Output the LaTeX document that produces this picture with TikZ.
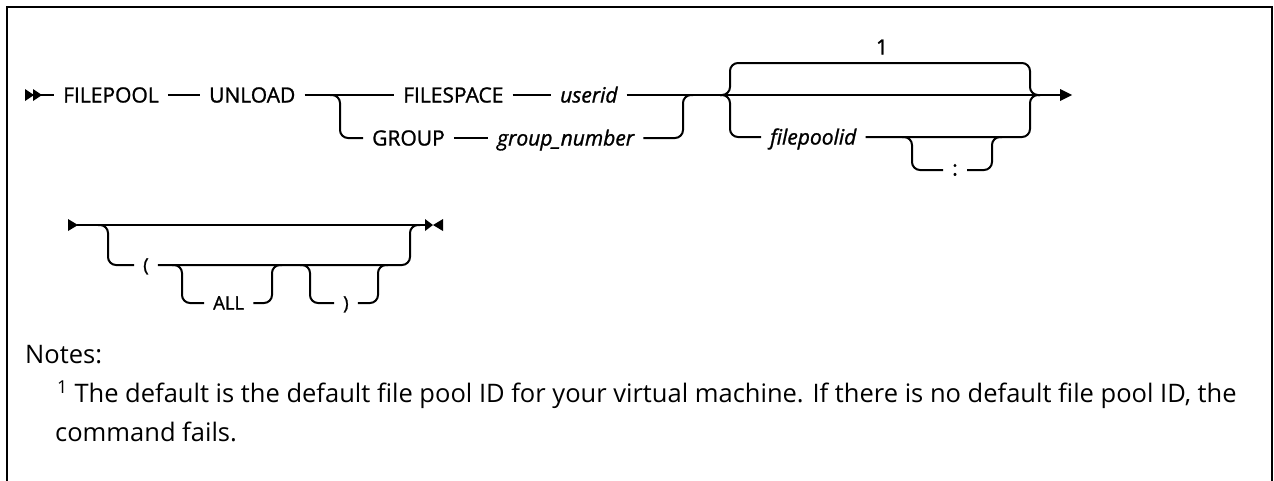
\documentclass[tikz,border=0pt]{standalone}
\usepackage{fontspec}
\setmainfont{Open Sans}
\newfontfamily\diagfont[FakeBold=1.2, ItalicFeatures={FakeBold=1.2}]{Open Sans}
\begin{document}
\begin{tikzpicture}[x=1pt,y=-1pt,
  ln/.style={line width=2pt, rounded corners=8pt},
  kw/.style={font=\diagfont\fontsize{21}{24}\selectfont, inner xsep=9pt, inner ysep=0pt, text height=15pt, text depth=0pt, anchor=west},
  var/.style={kw, font=\diagfont\fontsize{21}{24}\selectfont\itshape},
  kwb/.style={kw, font=\diagfont\fontsize{18.5}{22}\selectfont, text height=13pt},
  note/.style={anchor=base west, inner sep=0pt, font=\fontsize{25.5}{30}\selectfont},
  tri/.style={fill=black}]
\useasboundingbox (0,0) rectangle (1274,480);
\draw[line width=2.5pt] (7,484) -- (7,7) -- (1272,7) -- (1272,484);

% ---- row 1
\fill[tri] (25,89) -- (34,95) -- (25,101) -- cycle;
\fill[tri] (33,89) -- (42,95) -- (33,101) -- cycle;
\coordinate (s1) at (41,95);
\node[kw] (filepool) at (54,95) {FILEPOOL};
\node[kw] (unload) at (200,95) {UNLOAD};
\node[kw] (filespace) at (394,95) {FILESPACE};
\node[var] (userid) at (551,95) {userid};
\node[kw] (group) at (363,138) {GROUP};
\node[var] (groupnum) at (488,138) {group\_number};
\node[var] (fpid) at (761,137) {filepoolid};
\node[kw, text height=11pt] (colon) at (943,170) {:};
\node[kw, anchor=center] (one) at (882,47) {1};
\coordinate (e1) at (1061,95);

\draw[ln] (s1) -- (filepool);
\draw[ln] (filepool) -- (unload);
\draw[ln] (unload) -- (filespace);
\draw[ln] (filespace) -- (userid);
\draw[ln] (userid.east) -- (e1);
\fill[tri] (1060,89) -- (1072,95) -- (1060,101) -- cycle;

\draw[ln] (330,95) -- (340,95) -- (340,138) -- (group.west);
\draw[ln] (group) -- (groupnum);
\draw[ln] (groupnum.east) -- (683,138) -- (683,95) -- (693,95);

\draw[ln] (720,95) -- (730,95) -- (730,63) -- (1030,63) -- (1030,95) -- (1040,95);
\draw[ln] (720,95) -- (730,95) -- (730,137) -- (fpid.west);
\draw[ln] (fpid.east) -- (1030,137) -- (1030,95) -- (1040,95);
\draw[ln] (902,137) -- (912,137) -- (912,170) -- (colon.west);
\draw[ln] (colon.east) -- (992,170) -- (992,137) -- (1002,137);

% ---- row 2
\fill[tri] (68,219) -- (78,225) -- (68,231) -- cycle;
\coordinate (s2) at (77,225);
\coordinate (e2) at (426,225);
\draw[ln] (s2) -- (e2);
\fill[tri] (425,219) -- (433,225) -- (425,231) -- cycle;
\fill[tri] (443,219) -- (433,225) -- (443,231) -- cycle;
\node[kwb] (lp) at (134,265) {(};
\node[kwb] (all) at (204,303) {ALL};
\node[kwb] (rp) at (334,303) {)};

\draw[ln] (98,225) -- (108,225) -- (108,265) -- (lp.west);
\draw[ln] (lp.east) -- (410,265) -- (410,225) -- (420,225);
\draw[ln] (172,265) -- (182,265) -- (182,303) -- (all.west);
\draw[ln] (all.east) -- (272,303) -- (272,265) -- (282,265);
\draw[ln] (300,265) -- (310,265) -- (310,303) -- (rp.west);
\draw[ln] (rp.east) -- (378,303) -- (378,265) -- (388,265);

% ---- notes
\node[note] (notes) at (25,363) {Notes:};
\node[note] (n1) at (57,402.7) {\textsuperscript{1} The default is the default file pool ID for your virtual machine. If there is no default file pool ID, the};
\node[note] (n2) at (55,441.7) {command fails.};
\end{tikzpicture}
\end{document}
